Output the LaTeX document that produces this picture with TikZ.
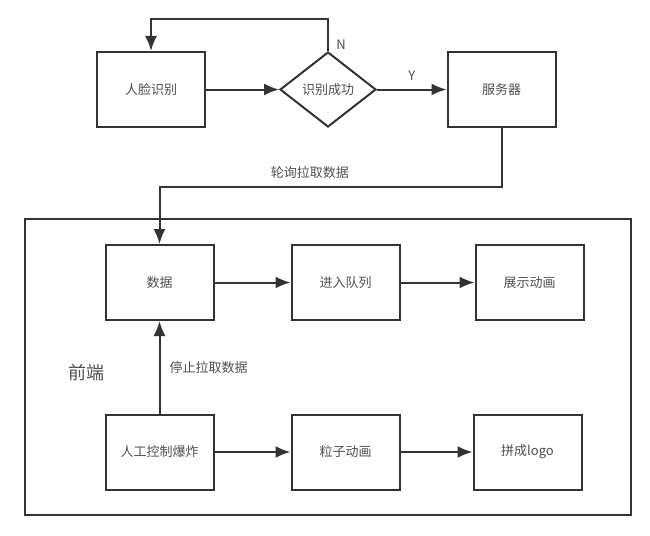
\documentclass[tikz,border=0pt]{standalone}
\usepackage{fontspec}
\setmainfont{Noto Sans CJK SC}
\usetikzlibrary{arrows.meta,positioning,shapes.geometric}
\definecolor{ink}{RGB}{51,51,51}
\definecolor{label}{RGB}{80,80,80}
\tikzset{
  every picture/.style={color=ink, line width=2pt},
  box/.style={draw=ink, line width=2pt, fill=white, minimum width=108pt, minimum height=75pt, inner sep=2pt, text=label, font=\fontsize{13}{15}\selectfont},
  check/.style={box, diamond, minimum width=96pt, minimum height=75pt, inner sep=0pt, aspect=1.3},
  flow/.style={-{Latex[length=15pt,width=12pt]}, draw=ink, line width=2pt},
  lbl/.style={font=\fontsize{13}{15}\selectfont, text=label, inner sep=1pt},
  big/.style={font=\fontsize{18}{20}\selectfont, text=label},
}
\begin{document}
\begin{tikzpicture}[x=1pt, y=-1pt]
  \useasboundingbox (0,0) rectangle (650,535);
  % top row
  \node[box] (face) at (151,89.5) {人脸识别};
  \node[check] (ok) at (328,89.5) {识别成功};
  \node[box] (server) at (501.5,89.5) {服务器};
  \draw[flow] (face) -- (ok);
  \draw[flow] (ok) -- node[lbl, above=7pt] {Y} (server);
  \draw[flow] (ok.north) -- ++(0,-32) -| (face.north);
  \node[lbl] (no) at (341,45) {N};
  % front end
  \draw[ink, line width=2pt] (25,219) rectangle (631,515);
  \node[big] (front) at (86,373) {前端};
  \node[box] (data) at (159.5,282.5) {数据};
  \node[box, right=76pt of data] (queue) {进入队列};
  \node[box, right=74pt of queue] (show) {展示动画};
  \node[box] (boom) at (159.5,452) {人工控制爆炸};
  \node[box, right=76pt of boom] (part) {粒子动画};
  \node[box, right=72pt of part] (logo) {拼成logo};
  \draw[flow] (server.south) -- ++(0,59) -| node[lbl, pos=0.28, above=6pt] {轮询拉取数据} (data.north);
  \draw[flow] (data) -- (queue);
  \draw[flow] (queue) -- (show);
  \draw[flow] (boom) -- node[lbl, right=8pt] {停止拉取数据} (data);
  \draw[flow] (boom) -- (part);
  \draw[flow] (part) -- (logo);
\end{tikzpicture}
\end{document}
